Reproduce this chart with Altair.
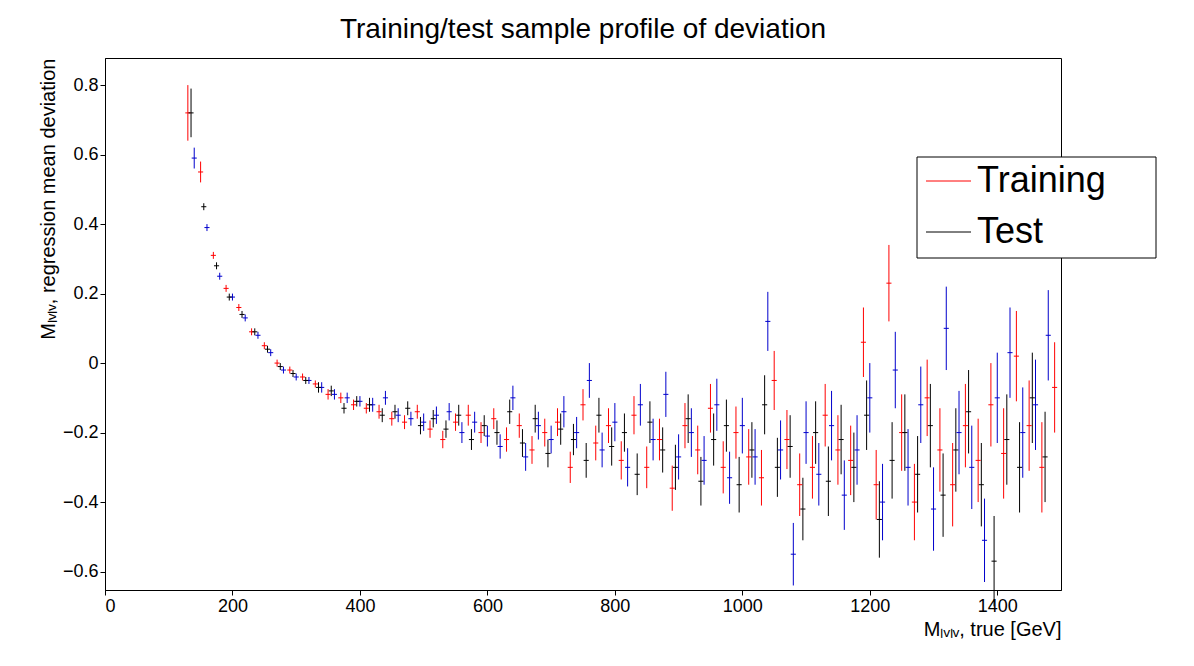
import altair as alt
import pandas as pd

red_x = list(range(130, 1491, 20))
red_y = [.72, .55, .31, .215, .16, .09, .05, .0, -.02, -.04, -.06, -.09, -.10, -.12, -.13, -.14,
         -.16, -.17, -.14, -.19, -.22, -.17, -.15, -.20, -.16, -.22, -.18, -.25, -.20, -.17, -.30,
         -.12, -.23, -.18, -.28, -.15, -.30, -.22, -.36, -.18, -.25, -.13, -.30, -.20, -.27, -.33,
         -.05, -.22, -.35, -.30, -.15, -.25, -.28, .06, -.35, .23, -.20, -.40, -.10, -.25, -.35,
         -.18, -.28, -.12, -.26, .02, -.18, -.30, -.07]
blue_x = list(range(140, 1481, 20))
blue_y = [.59, .39, .25, .19, .13, .08, .03, -.02, -.04, -.05, -.07, -.09, -.10, -.11, -.12, -.10,
          -.15, -.16, -.17, -.15, -.14, -.20, -.17, -.21, -.24, -.10, -.27, -.18, -.22, -.14, -.20,
          -.05, -.25, -.17, -.30, -.12, -.22, -.09, -.27, -.20, -.28, -.12, -.33, -.18, -.27, .12,
          -.25, -.55, -.20, -.32, -.18, -.38, -.25, -.10, -.40, -.02, -.30, -.12, -.42, .10, -.20,
          -.30, -.51, -.10, .03, -.20, -.12, .08]
black_x = list(range(135, 1476, 20))
black_y = [.72, .45, .28, .19, .14, .09, .04, -.01, -.03, -.05, -.07, -.08, -.13, -.11, -.12, -.15,
           -.14, -.13, -.18, -.16, -.19, -.15, -.22, -.18, -.20, -.14, -.23, -.16, -.26, -.19, -.22,
           -.28, -.15, -.24, -.20, -.32, -.17, -.25, -.30, -.16, -.34, -.22, -.18, -.35, -.25, -.12,
           -.30, -.24, -.42, -.20, -.34, -.22, -.30, -.15, -.45, -.28, -.20, -.32, -.18, -.38, -.25,
           -.14, -.35, -.57, -.22, -.30, -.10, -.27]
red_err = [.08, .03, .01, .01, .01, .01, .01, .01, .01, .01, .01, .015, .015, .015, .015, .02, .02,
           .02, .02, .025, .025, .025, .03, .03, .03, .035, .035, .04, .04, .04, .045, .045, .05,
           .05, .055, .055, .06, .06, .065, .065, .07, .07, .075, .075, .08, .08, .085, .085, .09,
           .09, .09, .1, .1, .1, .1, .11, .11, .11, .11, .12, .12, .12, .12, .12, .13, .13, .13,
           .13, .13]
blue_err = red_err[1:]
black_err = [.07] + red_err[2:]

rows = []
for name, xs, ys, es in [("red", red_x, red_y, red_err), ("blue", blue_x, blue_y, blue_err),
                         ("black", black_x, black_y, black_err)]:
    for x, y, e in zip(xs, ys, es):
        rows.append(dict(s=name, x=x, y=y, lo=y - e, hi=y + e, xl=x - 4, xh=x + 4))
df = pd.DataFrame(rows)

font = "Liberation Sans"
xs = alt.Scale(domain=[0, 1500], nice=False)
ys = alt.Scale(domain=[-0.653, 0.878], nice=False)
col = alt.Color("s:N", scale=alt.Scale(domain=["red", "blue", "black"],
                                       range=["#ff0000", "#0000cc", "#000000"]), legend=None)

base = alt.Chart(df)
vbar = base.mark_rule(strokeWidth=1).encode(
    x=alt.X("x:Q", scale=xs, title="Mₗᵥₗᵥ, true [GeV]",
            axis=alt.Axis(values=[0, 200, 400, 600, 800, 1000, 1200, 1400], titleAnchor="end",
                          titleAlign="right", grid=False, format="d")),
    y=alt.Y("lo:Q", scale=ys, title="Mₗᵥₗᵥ, regression mean deviation",
            axis=alt.Axis(values=[-0.6, -0.4, -0.2, 0, 0.2, 0.4, 0.6, 0.8], titleAnchor="end",
                          grid=False, format="~g")),
    y2="hi:Q", color=col)
hbar = base.mark_rule(strokeWidth=1).encode(x="xl:Q", x2="xh:Q", y="y:Q", color=col)

leg = pd.DataFrame({"t": ["Training", "Test"], "c": ["#ff0000", "#000000"], "yy": [123, 174]})
box = alt.Chart(leg.head(1)).mark_rect(fill="white", stroke="black", strokeWidth=1).encode(
    x=alt.value(812), x2=alt.value(1051), y=alt.value(99), y2=alt.value(200))
lines = alt.Chart(leg).mark_rule(strokeWidth=1).encode(
    x=alt.value(821), x2=alt.value(866), y=alt.Y("yy:Q", scale=None),
    color=alt.Color("c:N", scale=None))
texts = alt.Chart(leg).mark_text(align="left", baseline="middle", fontSize=36, font=font).encode(
    x=alt.value(872), y=alt.Y("yy:Q", scale=None), text="t:N")

chart = (vbar + hbar + box + lines + texts).properties(
    width=956, height=532, background="white",
    padding={"left": 30, "top": 8, "right": 5, "bottom": 5},
    title=alt.TitleParams("Training/test sample profile of deviation", fontSize=28,
                          font=font, fontWeight="normal", offset=14, color="black"),
).configure_view(stroke="black", strokeWidth=1).configure_axis(
    labelFont=font, titleFont=font, labelFontSize=18, titleFontSize=20, titleFontWeight="normal",
    domainColor="black", tickColor="black", labelColor="black", titleColor="black",
)

chart.save("out.html", embed_options={"renderer": "svg", "actions": False})
